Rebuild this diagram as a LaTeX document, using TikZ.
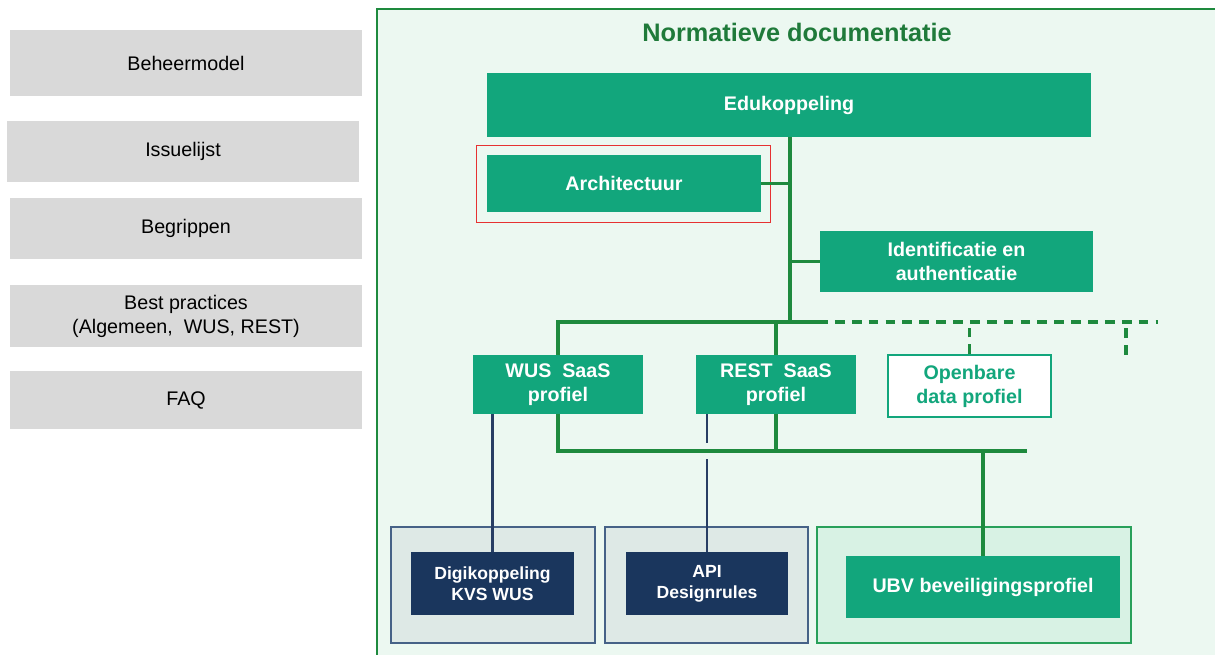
\documentclass[tikz,border=0pt]{standalone}
\usepackage{fontspec}
\setmainfont{Liberation Sans}
\definecolor{edugreen}{RGB}{18,166,124}
\definecolor{linegreen}{RGB}{30,138,62}
\definecolor{titlegreen}{RGB}{31,122,58}
\definecolor{panelfill}{RGB}{236,248,241}
\definecolor{boxgrey}{RGB}{217,217,217}
\definecolor{navy}{RGB}{26,54,93}
\definecolor{navyline}{RGB}{40,62,100}
\definecolor{contfill}{RGB}{222,233,230}
\definecolor{contline}{RGB}{70,98,135}
\definecolor{ubvfill}{RGB}{216,242,228}
\definecolor{ubvline}{RGB}{40,160,90}
\definecolor{marker}{RGB}{230,50,50}
\tikzset{
  dims/.style 2 args={minimum width=#1*0.025cm,minimum height=#2*0.025cm},
  greybox/.style={fill=boxgrey,inner sep=0pt,align=center,
    font=\fontsize{14}{17}\selectfont},
  edubox/.style={fill=edugreen,text=white,inner sep=0pt,align=center,
    font=\bfseries\fontsize{14}{17}\selectfont},
  navybox/.style={fill=navy,text=white,inner sep=0pt,align=center,
    font=\bfseries\fontsize{12.5}{15}\selectfont},
  openbox/.style={fill=white,draw=edugreen,line width=1pt,text=edugreen,
    inner sep=0pt,align=center,font=\bfseries\fontsize{14}{17}\selectfont},
  holder/.style={draw=contline,fill=contfill,line width=1pt,inner sep=0pt},
  glink/.style={linegreen,line width=2.2pt},
  blink/.style={navyline,line width=1.8pt},
  dashlink/.style={glink,dash pattern=on 7pt off 5pt},
}
\begin{document}
\begin{tikzpicture}[x=0.025cm,y=-0.025cm]
  \clip (0,0) rectangle (1215,655);
  \fill[white] (0,0) rectangle (1215,655);
  % left column
  \node[greybox,dims={352}{66}] (beheer) at (186,63) {Beheermodel};
  \node[greybox,dims={352}{61}] (issue) at (183,151.5) {Issuelijst};
  \node[greybox,dims={352}{61}] (begrip) at (186,228.5) {Begrippen};
  \node[greybox,dims={352}{62}] (best) at (186,316)
    {Best practices\\(Algemeen, \ WUS, REST)};
  \node[greybox,dims={352}{58}] (faq) at (186,400) {FAQ};
  % panel
  \filldraw[fill=panelfill,draw=linegreen,line width=1.1pt]
    (377,9) rectangle (1225,670);
  \node[text=titlegreen,font=\bfseries\fontsize{18}{21}\selectfont]
    (title) at (797,32) {Normatieve documentatie};
  \node[edubox,dims={604}{64}] (edu) at (789,105) {Edukoppeling};
  \node[edubox,dims={274}{57}] (arch) at (624,183.5) {Architectuur};
  \draw[marker,line width=0.9pt] ([shift={(-10,-9)}]arch.north west)
    rectangle ([shift={(9,10)}]arch.south east);
  \node[edubox,dims={273}{61}] (ident) at (956.5,261.5)
    {Identificatie en\\authenticatie};
  \node[edubox,dims={170}{59}] (wus) at (558,384.5) {WUS \ SaaS\\profiel};
  \node[edubox,dims={160}{59}] (rest) at (776,384.5) {REST \ SaaS\\profiel};
  \node[openbox,dims={163}{62}] (open) at (969.5,386) {Openbare\\data profiel};
  % bottom holders
  \node[holder,dims={204}{116}] (cont1) at (493,585) {};
  \node[holder,dims={203}{116}] (cont2) at (706.5,585) {};
  \node[holder,draw=ubvline,fill=ubvfill,dims={314}{116}] (cont3) at (974,585) {};
  \node[navybox,dims={163}{63}] (digi) at (492.5,583.5) {Digikoppeling\\KVS WUS};
  \node[navybox,dims={162}{63}] (api) at (707,583.5) {API\\Designrules};
  \node[edubox,dims={274}{62}] (ubv) at (983,587) {UBV beveiligingsprofiel};
  % tree
  \coordinate (bus) at (790,322);
  \coordinate (busend) at (818,322);
  \coordinate (dashend) at (1158,322);
  \coordinate (stub) at (1126,355);
  \coordinate (lbus) at (1027,451);
  \draw[glink] (edu.south -| bus) -- (bus);
  \draw[glink] (arch.east) -- (arch.east -| bus);
  \draw[glink] (ident.west) -- (ident.west -| bus);
  \draw[glink] (wus.north) -- (wus.north |- bus) -- (busend);
  \draw[glink] (rest.north) -- (rest.north |- bus);
  \draw[dashlink] (busend) -- (dashend);
  \draw[dashlink] (open.north) -- (open.north |- bus);
  \draw[dashlink] (stub) -- (stub |- bus);
  \draw[blink] (wus.south -| digi.north) -- (digi.north);
  \draw[blink] (rest.south -| api.north) -- (api.north);
  \draw[glink,preaction={draw=panelfill,line width=12pt}]
    (wus.south) -- (wus.south |- lbus) -- (lbus);
  \draw[glink] (rest.south) -- (rest.south |- lbus);
  \draw[glink] (ubv.north) -- (ubv.north |- lbus);
\end{tikzpicture}
\end{document}
